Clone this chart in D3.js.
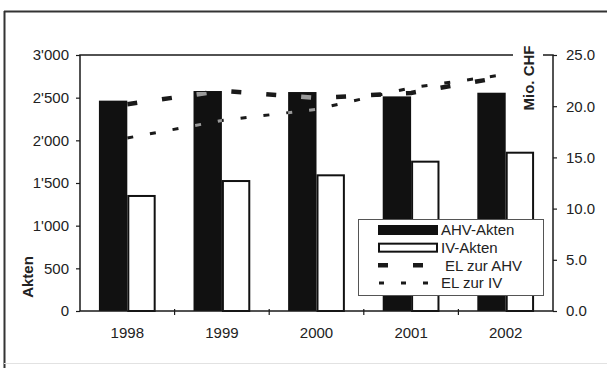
<!DOCTYPE html>
<html>
<head>
<meta charset="utf-8">
<script src="https://cdn.jsdelivr.net/npm/d3@7"></script>
<style>
  body { margin: 0; background: #fff; }
  svg { display: block; font-family: "Liberation Sans", Arial, sans-serif; }
</style>
</head>
<body>
<svg id="chart" width="607" height="368"></svg>
<script>
var years = ["1998", "1999", "2000", "2001", "2002"]
var ahvAkten = [2465, 2578, 2566, 2515, 2558]
var ivAkten = [1348, 1523, 1590, 1750, 1855]
var elAhv = [20.2, 21.5, 20.8, 21.3, 22.9]
var elIv = [16.9, 18.6, 19.7, 21.8, 23.1]
var leftTicks = [0, 500, 1000, 1500, 2000, 2500, 3000]
var rightTicks = [0, 5, 10, 15, 20, 25]
var legendNames = ["AHV-Akten", "IV-Akten", "EL zur AHV", "EL zur IV"]

var PLOT_LEFT = 80
var PLOT_RIGHT = 553
var PLOT_TOP = 55
var PLOT_BOTTOM = 311
var INK = "#1a1a1a"

var svg = d3.select("#chart")

// outer frame of the scanned figure
svg.append("line").attr("x1", 4.5).attr("x2", 4.5).attr("y1", 11).attr("y2", 368)
  .style("stroke", "#333").style("stroke-width", 2)
svg.append("line").attr("x1", 4).attr("x2", 607).attr("y1", 11.5).attr("y2", 11.5)
  .style("stroke", "#333").style("stroke-width", 2)
svg.append("line").attr("x1", 4).attr("x2", 607).attr("y1", 363.5).attr("y2", 363.5)
  .style("stroke", "#e2e2e2").style("stroke-width", 1)

var swiss = d3.formatLocale({decimal: ".", thousands: "'", grouping: [3], currency: ["", ""]})

var x = d3.scaleBand().domain(years).range([PLOT_LEFT, PLOT_RIGHT])
  .paddingInner(0.4).paddingOuter(0.2)
var xs = d3.scaleBand().domain(["ahv", "iv"]).range([0, x.bandwidth()])
var yLeft = d3.scaleLinear().domain([0, 3000]).range([PLOT_BOTTOM, PLOT_TOP])
var yRight = d3.scaleLinear().domain([0, 25]).range([PLOT_BOTTOM, PLOT_TOP])

// bars
var groups = svg.append("g").selectAll("g").data(years).join("g")
  .attr("transform", function(d) { return "translate(" + x(d) + ",0)" })

groups.append("rect")
  .attr("x", xs("ahv"))
  .attr("y", function(d, i) { return yLeft(ahvAkten[i]) })
  .attr("width", xs.bandwidth())
  .attr("height", function(d, i) { return PLOT_BOTTOM - yLeft(ahvAkten[i]) })
  .style("fill", "#111")

groups.append("rect")
  .attr("x", xs("iv") + 1)
  .attr("y", function(d, i) { return yLeft(ivAkten[i]) })
  .attr("width", xs.bandwidth() - 2)
  .attr("height", function(d, i) { return PLOT_BOTTOM - yLeft(ivAkten[i]) })
  .style("fill", "#fff")
  .style("stroke", "#111")
  .style("stroke-width", 2)

// clip to the black bars, where the dashes show up light
var clip = svg.append("clipPath").attr("id", "darkbars")
clip.selectAll("rect").data(years).join("rect")
  .attr("x", function(d) { return x(d) + xs("ahv") })
  .attr("y", function(d, i) { return yLeft(ahvAkten[i]) + 1 })
  .attr("width", xs.bandwidth())
  .attr("height", function(d, i) { return PLOT_BOTTOM - yLeft(ahvAkten[i]) })

// EL lines on the right axis
var line = d3.line()
  .x(function(d, i) { return x(years[i]) + x.bandwidth() / 2 })
  .y(function(d) { return yRight(d) })

var series = [
  {values: elIv, width: 3, dash: "6,17"},
  {values: elAhv, width: 4.5, dash: "10,25"}
]

series.forEach(function(s) {
  svg.append("path").datum(s.values).attr("d", line)
    .style("fill", "none").style("stroke", INK)
    .style("stroke-width", s.width).style("stroke-dasharray", s.dash)
  svg.append("path").datum(s.values).attr("d", line)
    .attr("clip-path", "url(#darkbars)")
    .style("fill", "none").style("stroke", "#9a9a9a")
    .style("stroke-width", s.width).style("stroke-dasharray", s.dash)
})

// plot frame
svg.append("rect")
  .attr("x", PLOT_LEFT).attr("y", PLOT_TOP)
  .attr("width", PLOT_RIGHT - PLOT_LEFT).attr("height", PLOT_BOTTOM - PLOT_TOP)
  .style("fill", "none").style("stroke", INK).style("stroke-width", 1.5)

// axes
var axisLeft = d3.axisLeft(yLeft).tickValues(leftTicks).tickSize(4).tickPadding(7)
  .tickFormat(swiss.format(","))
var axisRight = d3.axisRight(yRight).tickValues(rightTicks).tickSize(4).tickPadding(9)
  .tickFormat(d3.format(".1f"))
var axisBottom = d3.axisBottom(x).tickSize(0).tickPadding(16)

function styleAxis(g) {
  g.select(".domain").remove()
  g.selectAll("line").style("stroke", INK).style("stroke-width", 1.2)
  g.selectAll("text").style("font-size", "15px").style("fill", "#222")
}

svg.append("g").attr("transform", "translate(" + PLOT_LEFT + ",0)").call(axisLeft).call(styleAxis)
svg.append("g").attr("transform", "translate(" + PLOT_RIGHT + ",0)").call(axisRight).call(styleAxis)
svg.append("g").attr("transform", "translate(0," + PLOT_BOTTOM + ")").call(axisBottom).call(styleAxis)

// small ticks between categories on the x axis
svg.append("g").selectAll("line").data(years.slice(1)).join("line")
  .attr("x1", function(d) { return x(d) - x.step() * x.paddingInner() / 2 })
  .attr("x2", function(d) { return x(d) - x.step() * x.paddingInner() / 2 })
  .attr("y1", PLOT_BOTTOM - 2).attr("y2", PLOT_BOTTOM + 4)
  .style("stroke", INK).style("stroke-width", 1.2)

// axis titles
svg.append("text")
  .attr("transform", "translate(33,277) rotate(-90)")
  .attr("text-anchor", "middle")
  .style("font-size", "15px").style("font-weight", "bold").style("fill", "#222")
  .text("Akten")

svg.append("rect").attr("x", 513).attr("y", 40).attr("width", 30).attr("height", 76)
  .style("fill", "#fff")
svg.append("text")
  .attr("transform", "translate(534,78) rotate(-90)")
  .attr("text-anchor", "middle")
  .style("font-size", "15px").style("font-weight", "bold").style("fill", "#222")
  .text("Mio. CHF")

// legend
var legend = svg.append("g")
legend.append("rect")
  .attr("x", 358.5).attr("y", 219.5).attr("width", 185).attr("height", 76)
  .style("fill", "#fff").style("stroke", "#555").style("stroke-width", 1)

var rowY = d3.scalePoint().domain(legendNames).range([230, 283])

legend.append("rect").attr("x", 378).attr("y", rowY(legendNames[0]) - 5)
  .attr("width", 60).attr("height", 10).style("fill", "#111")
legend.append("rect").attr("x", 379).attr("y", rowY(legendNames[1]) - 4)
  .attr("width", 58).attr("height", 8)
  .style("fill", "#fff").style("stroke", "#111").style("stroke-width", 2)
legend.append("line").attr("x1", 378).attr("x2", 428)
  .attr("y1", rowY(legendNames[2])).attr("y2", rowY(legendNames[2]))
  .style("stroke", INK).style("stroke-width", 4.5).style("stroke-dasharray", "10,25")
legend.append("line").attr("x1", 379).attr("x2", 430)
  .attr("y1", rowY(legendNames[3])).attr("y2", rowY(legendNames[3]))
  .style("stroke", INK).style("stroke-width", 3).style("stroke-dasharray", "5,17")

legend.selectAll("text").data(legendNames).join("text")
  .attr("x", function(d, i) { return i == 2 ? 445 : 441 })
  .attr("y", function(d) { return rowY(d) })
  .attr("dy", "0.35em")
  .style("font-size", "15px").style("fill", "#222")
  .text(function(d) { return d })
</script>
</body>
</html>
